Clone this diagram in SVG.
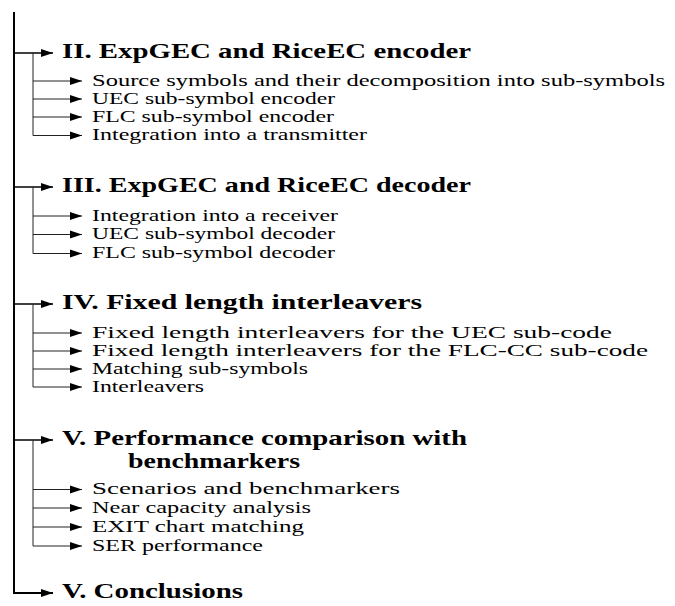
<svg xmlns="http://www.w3.org/2000/svg" width="675" height="606" viewBox="0 0 675 606">
<style>
.h{font-family:"Liberation Serif","DejaVu Serif",serif;font-weight:bold;font-size:21px;fill:#000}
.s{font-family:"Liberation Serif","DejaVu Serif",serif;font-size:17px;fill:#000}
.main{stroke:#000;stroke-width:2;fill:none}
.sec{stroke:#000;stroke-width:1.6;fill:none}
.sub{stroke:#222;stroke-width:1;fill:none}
</style>
<defs>
<marker id="ah" markerUnits="userSpaceOnUse" markerWidth="13" markerHeight="9" refX="12" refY="4.5" orient="auto">
<path d="M0,0.5 L12,4.5 L0,8.5 z" fill="#000"/>
</marker>
</defs>
<rect width="675" height="606" fill="#fff"/>
<g id="connectors">
<path class="main" d="M14,12 V593 H53" marker-end="url(#ah)"/>
<path class="sec" d="M14,53 H53" marker-end="url(#ah)"/>
<path class="sub" d="M33,53 V135.5 H82" marker-end="url(#ah)"/>
<path class="sub" d="M33,81 H82" marker-end="url(#ah)"/>
<path class="sub" d="M33,99 H82" marker-end="url(#ah)"/>
<path class="sub" d="M33,117 H82" marker-end="url(#ah)"/>
<path class="sec" d="M14,187 H53" marker-end="url(#ah)"/>
<path class="sub" d="M33,187 V253.5 H82" marker-end="url(#ah)"/>
<path class="sub" d="M33,216 H82" marker-end="url(#ah)"/>
<path class="sub" d="M33,234.5 H82" marker-end="url(#ah)"/>
<path class="sec" d="M14,304 H53" marker-end="url(#ah)"/>
<path class="sub" d="M33,304 V387 H82" marker-end="url(#ah)"/>
<path class="sub" d="M33,333 H82" marker-end="url(#ah)"/>
<path class="sub" d="M33,351 H82" marker-end="url(#ah)"/>
<path class="sub" d="M33,369 H82" marker-end="url(#ah)"/>
<path class="sec" d="M14,440 H53" marker-end="url(#ah)"/>
<path class="sub" d="M33,440 V546 H82" marker-end="url(#ah)"/>
<path class="sub" d="M33,489.5 H82" marker-end="url(#ah)"/>
<path class="sub" d="M33,508 H82" marker-end="url(#ah)"/>
<path class="sub" d="M33,527 H82" marker-end="url(#ah)"/>
</g>
<g id="sec2">
<text class="h" x="62" y="58" textLength="409" lengthAdjust="spacingAndGlyphs">II. ExpGEC and RiceEC encoder</text>
<text class="s" x="92" y="85.5" textLength="573" lengthAdjust="spacingAndGlyphs">Source symbols and their decomposition into sub-symbols</text>
<text class="s" x="92" y="103.5" textLength="243" lengthAdjust="spacingAndGlyphs">UEC sub-symbol encoder</text>
<text class="s" x="92" y="121.5" textLength="242" lengthAdjust="spacingAndGlyphs">FLC sub-symbol encoder</text>
<text class="s" x="92" y="140" textLength="275" lengthAdjust="spacingAndGlyphs">Integration into a transmitter</text>
</g>
<g id="sec3">
<text class="h" x="62" y="192" textLength="409" lengthAdjust="spacingAndGlyphs">III. ExpGEC and RiceEC decoder</text>
<text class="s" x="92" y="220.5" textLength="246" lengthAdjust="spacingAndGlyphs">Integration into a receiver</text>
<text class="s" x="92" y="239" textLength="243" lengthAdjust="spacingAndGlyphs">UEC sub-symbol decoder</text>
<text class="s" x="92" y="258" textLength="243" lengthAdjust="spacingAndGlyphs">FLC sub-symbol decoder</text>
</g>
<g id="sec4">
<text class="h" x="62" y="309" textLength="360" lengthAdjust="spacingAndGlyphs">IV. Fixed length interleavers</text>
<text class="s" x="92" y="337.5" textLength="520" lengthAdjust="spacingAndGlyphs">Fixed length interleavers for the UEC sub-code</text>
<text class="s" x="92" y="355.5" textLength="556" lengthAdjust="spacingAndGlyphs">Fixed length interleavers for the FLC-CC sub-code</text>
<text class="s" x="92" y="373.5" textLength="216" lengthAdjust="spacingAndGlyphs">Matching sub-symbols</text>
<text class="s" x="92" y="391.5" textLength="112" lengthAdjust="spacingAndGlyphs">Interleavers</text>
</g>
<g id="sec5">
<text class="h" x="62" y="445" textLength="405" lengthAdjust="spacingAndGlyphs">V. Performance comparison with</text>
<text class="h" x="128" y="468" textLength="172" lengthAdjust="spacingAndGlyphs">benchmarkers</text>
<text class="s" x="92" y="494" textLength="308" lengthAdjust="spacingAndGlyphs">Scenarios and benchmarkers</text>
<text class="s" x="92" y="512.5" textLength="219" lengthAdjust="spacingAndGlyphs">Near capacity analysis</text>
<text class="s" x="92" y="531.5" textLength="212" lengthAdjust="spacingAndGlyphs">EXIT chart matching</text>
<text class="s" x="92" y="550.5" textLength="171" lengthAdjust="spacingAndGlyphs">SER performance</text>
</g>
<g id="sec6">
<text class="h" x="62" y="598" textLength="181" lengthAdjust="spacingAndGlyphs">V. Conclusions</text>
</g>
</svg>
